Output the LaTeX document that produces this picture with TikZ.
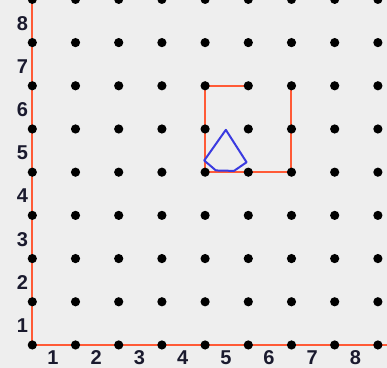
\documentclass[tikz,border=0pt]{standalone}
\usepackage{fontspec}
\setmainfont{Liberation Sans}
\definecolor{GRIDbg}{HTML}{EEEEEE}
\definecolor{GRIDred}{HTML}{FF5A36}
\definecolor{GRIDblue}{HTML}{3A3AE0}
\definecolor{GRIDink}{HTML}{1A1A2E}
\usetikzlibrary{calc, positioning}

\begin{document}
\begin{tikzpicture}[x=43.2pt, y=43.2pt,
   ticklabel/.style={font=\fontsize{20}{20}\selectfont\bfseries, text=GRIDink, inner sep=0pt},
   peg/.style={fill=black}]
      % Background
      \fill[GRIDbg] (-0.748,-0.532) rectangle (8.211,7.986);
      \useasboundingbox (-0.748,-0.532) rectangle (8.211,7.986);
      % Axes
      \draw[GRIDred, line width=2pt] (0,8.1) -- (0,0) -- (8.3,0);
      % Square (open at the top right)
      \draw[GRIDred, line width=2pt] (5,6) -- (4,6) -- (4,4) -- (6,4) -- (6,6);
      % Pegs
      \foreach \i in {0,...,8}
         \foreach \j in {0,...,8}
            \fill[peg] (\i,\j) circle (4.6pt);
      % Cone
      \coordinate (apex) at (4.48,4.98);
      \draw[GRIDblue, line width=2pt, line join=round]
         (apex) -- (3.98,4.27) -- (4.25,4.04) -- (4.67,4.03) -- (4.96,4.23) -- cycle;
      % Labels
      \foreach \k in {1,...,8} {
         \node[ticklabel] (xl\k) at (\k-0.52,-0.29) {\k};
         \node[ticklabel] (yl\k) at (-0.23,\k-0.55) {\k};
      }
   \end{tikzpicture}
\end{document}
